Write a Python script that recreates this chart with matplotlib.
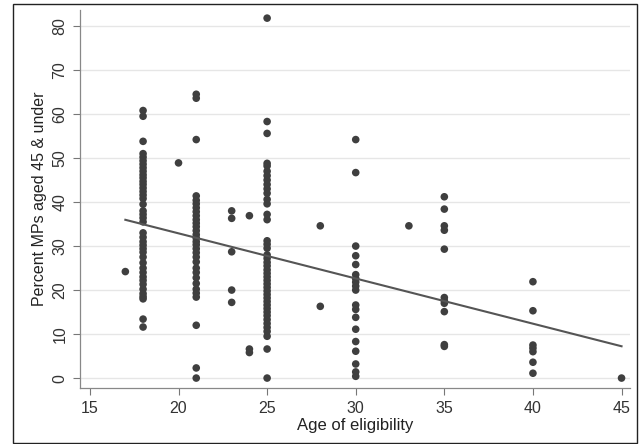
import numpy as np
import matplotlib
matplotlib.use("Agg")
import matplotlib.pyplot as plt
from matplotlib.patches import Rectangle

# --- Data: percent of MPs aged 45 & under, grouped by age of eligibility ---
AGES = [17, 18, 20, 21, 23, 24, 25, 28, 30, 33, 35, 40, 45]

pct_17 = [24.2]
pct_18 = [60.8, 59.5, 53.8, 51.0, 50.2, 49.4, 48.6, 47.8, 47.0, 46.2, 45.5,
          44.7, 44.0, 43.2, 42.4, 41.6, 40.8, 39.5, 38.0, 37.2, 36.4, 35.5,
          33.0, 32.0, 31.0, 30.2, 29.4, 28.6, 27.5, 26.2, 25.0, 24.0, 23.0,
          22.2, 21.3, 20.2, 19.2, 18.5, 18.0, 13.4, 11.6]
pct_20 = [48.9]
pct_21 = [64.5, 63.6, 54.2, 41.4, 40.4, 39.6, 38.7, 37.8, 36.9, 36.0, 35.2,
          34.4, 33.5, 32.6, 31.8, 31.0, 30.3, 29.4, 28.5, 27.5, 26.4, 25.0,
          24.0, 22.8, 21.5, 20.2, 19.3, 18.4, 12.0, 2.3, 0.0]
pct_23 = [38.0, 36.3, 28.7, 20.0, 17.2]
pct_24 = [36.9, 6.6, 5.8]
pct_25 = [81.8, 58.3, 55.6, 48.8, 48.2, 47.0, 46.0, 45.0, 44.0, 43.0, 42.0,
          40.6, 39.6, 37.2, 36.0, 31.2, 30.4, 29.5, 28.0, 27.2, 26.3, 25.5,
          24.6, 23.8, 23.0, 22.2, 21.4, 20.6, 19.8, 19.0, 18.2, 17.4, 16.6,
          15.8, 15.0, 14.2, 13.3, 12.4, 11.5, 10.6, 9.5, 6.6, 0.0]
pct_28 = [34.6, 16.3]
pct_30 = [54.2, 46.7, 30.0, 27.8, 25.8, 23.5, 22.6, 21.8, 20.9, 20.0, 16.6,
          15.6, 13.8, 11.1, 8.3, 6.1, 3.2, 1.4, 0.4]
pct_33 = [34.6]
pct_35 = [41.2, 38.4, 34.6, 33.6, 29.3, 18.3, 17.6, 17.0, 15.1, 7.6, 7.2]
pct_40 = [21.9, 15.3, 7.5, 6.8, 6.0, 3.6, 1.1]
pct_45 = [0.0]

groups = [pct_17, pct_18, pct_20, pct_21, pct_23, pct_24, pct_25,
          pct_28, pct_30, pct_33, pct_35, pct_40, pct_45]

x = np.concatenate([[a] * len(g) for a, g in zip(AGES, groups)])
y = np.concatenate(groups)

# linear fit
slope, intercept = np.polyfit(x, y, 1)

plt.rcParams["font.family"] = ["Liberation Sans", "DejaVu Sans"]

fig = plt.figure(figsize=(6.43, 4.44), dpi=100)
ax = fig.add_axes([0.1244, 0.126, 0.856, 0.851])

ax.scatter(x, y, s=30, color="#3f3f3f", edgecolors="none", zorder=3)
xs = np.array([x.min(), x.max()])
ax.plot(xs, intercept + slope * xs, color="#555555", linewidth=1.5, zorder=4)

ax.set_xlim(14.44, 45.5)
ax.set_ylim(-2.27, 83.6)
ax.set_xticks([15, 20, 25, 30, 35, 40, 45])
ax.set_yticks(range(0, 81, 10))
ax.tick_params(axis="y", labelrotation=90)
for lbl in ax.get_yticklabels():
    lbl.set_va("center")
ax.tick_params(labelcolor="#333333", labelsize=11.5, length=5, width=0.8,
               color="#777777", pad=4)

ax.grid(axis="y", color="#e6e6e6", linewidth=1.0)
ax.set_axisbelow(True)
for side in ("top", "right"):
    ax.spines[side].set_visible(False)
for side in ("left", "bottom"):
    ax.spines[side].set_color("#888888")
    ax.spines[side].set_linewidth(0.9)

ax.set_xlabel("Age of eligibility", fontsize=12, color="#222222", labelpad=2)
ax.set_ylabel("Percent MPs aged 45 & under", fontsize=11.5, color="#222222", labelpad=4)

# outer frame around the whole graph
fig.patches.append(Rectangle((12.5 / 643, 1 / 444), 625 / 643, 439 / 444,
                             transform=fig.transFigure, fill=False,
                             edgecolor="#222222", linewidth=1.0))

fig.savefig("out.png", dpi=100)
